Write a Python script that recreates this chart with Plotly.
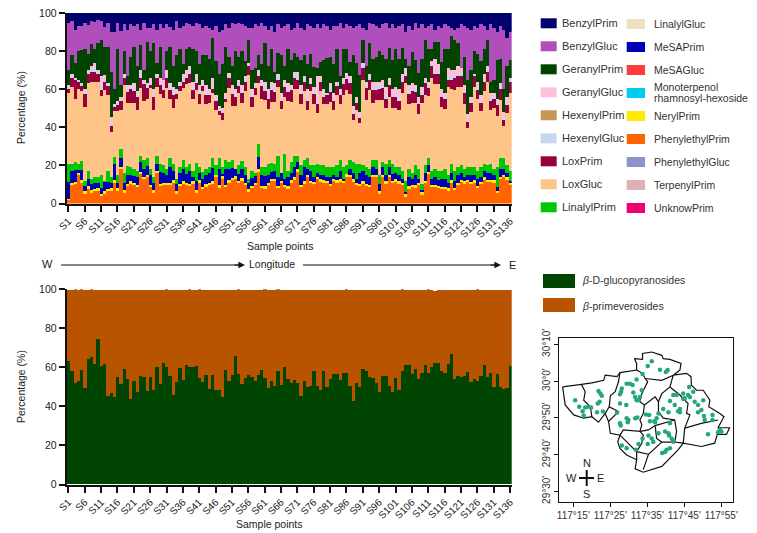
import plotly.graph_objects as go

W, H = 757, 533

samples = [f"S{i}" for i in range(1, 137)]
tick_samples = [f"S{i}" for i in range(1, 137, 5)]

# ---- upper stack: top edge of the visible layers (%)
phenylethyl_top = [
 2,10,10,15,11,5.5,8,6,6.5,7, 4,5.5,6.5,7,11,7,18,6,9,10.5,
 10,8.5,15.5,13,14,8.5,6,16,9.5,9.5, 10,9.5,11,5.5,9.5,10.5,9.5,9.5,10.5,6,
 11,7.5,9,10,10.5,14,8.5,13,8.5,11, 12.5,13,11,12,10,6.5,8,9.5,17,8,
 8,9.5,12,12,8,11,8.5,8,11,12.5, 16.5,8.5,10.5,14,11,10.5,13,11.5,11,11,
 9,12,11,11.5,11,14,14,11.5,9.5,9.5, 10.5,9.5,8.5,14,14,5.5,14,10.5,14,11,
 11.5,10.5,9.5,3.5,8,8.5,8.5,9.5,4.5,11, 15.5,8.5,8.5,8,7.5,7.5,7,11,7,9.5,
 11.5,10.5,11.5,10.5,11,8,10.5,12.5,11.5,11.5, 11,5.5,13,14,12.5,10]
mesa_top = [
 11.5,17,17.5,17.5,17.5,9,13,10,11,11, 8,11.5,11.5,11,20.5,11,24,11,15,15,
 14.5,14,22,18,19.5,15,11,21,16.5,16, 15,19,17,10,16,18,15.5,17,14,12,
 16,13,15,16,18.5,14,18,15.5,18,18, 18.5,18,15.5,18,15,11,13.5,14.5,24.5,15,
 14.5,15,16.5,17,14,16,13,14,16,19, 22,15,19,18,17,14,16,15,15,14,
 14,15,14,17,13,15,18,16,13,16, 17,15,14,19,18,10,19,15,19,15.5,
 16,15,13,6,14,13,15,13,7,16, 20,13,14,12.5,13,13,11,16,12,15,
 16,14,15,15,15,13,14,17,16,16, 15,8.5,18,18,16,12]
linalyl_top = [
 21,21,22,21,22.5,12,17,13,14,14, 15,12,17,14,24.5,15,28.5,16,19.5,19,
 18,17,25,23,24,18,14,25,21,20, 18,24,20.5,13,19,23,19,21,17,21.5,
 19,16.5,18,19,24,19,24,19,23,22, 23,18,20,22.5,19,13,17,16,31,19,
 19,21,21.5,21,25,16,26,17,22,25, 25,20,23,24,20,20,21,20,20,19,
 19,19,20,23,19,20,23,22,21,21, 20,19,18,23,23,15,22,21,23,21,
 19,19,17,12,18,16,20,18,10,20, 24,17,18,17,17,18,15,21,17,19,
 20,18,19,19,19,17,19,21,20,21, 18,19,24,24,20,17]
loxgluc_top = [
 58,61,55,60,59,50.5,63,64,64,64, 56.5,59.5,57,37.5,48.5,48.5,49,62,53,52.5,
 53,49,60.5,54,55,60.5,49,61,57.5,55.5, 60.5,55,50,55,59,60.5,62.5,63,55,59.5,
 52,59,52,52.5,58,48,46.5,44,53.5,60.5, 51,51,58,52.5,59,67.5,50.5,57,63,55,
 54.5,49.5,53.5,53.5,61,49.5,56,
 54,53.5,60,60,52,59,49,59,52,47.5, 59,52,52,53.5,49,57,52,57,59.5,57.5,
 44,49,42,65,54.5,59.5,52.5,54.5,54.5,54.5, 50,56,50,50,
 49,58,63,52,53,53,47,52.5,57,56.5, 66,62.5,62.5,50.5,49.5,61,60,59.5,61,61,
 52,39.5,48,61,55,48.5,59,64,49,50, 46,54.5,40.5,47.5,58]
loxprim_top = [
 60.5,66,65,64,62,58,68,69,69,68, 60,64,62,41,51,52,54,66,59,60,
 59,56,66,63,61,62,56,66,62,60, 66,60,57,58,62,64,66,68,60,63,
 58,62,57,57,60,53,49,48,55,66, 58,56,62,58,64,72,56,61,67,62,
 59.5,55,60,59,65,54,61,
 59,60,66,65,58,64,54,63,58,52, 64,56,57,59,54,62,57,63,65,63,
 47,53,45,71,61,65,60,60,60,61, 55,62,56,56,
 54,64,67,58,59,59,52,57,63,61, 72,68,68,56,55,65,65,66,67,67,
 58,43,53,67,60,53,64,69,54,55, 52,60,44,52,64]
geranylgluc_top = [
 62,68,66,65,63,60,70,72,73.5,70, 67,67.5,63,45.5,52,54,56,68,62,62,
 63,59,70,65,63,66,60,68,66,65, 70,63,61,60,64,68,70,72,64,68,
 62,65,62,60,66,56,51,50,58,68.5, 62,60,65,62,67,74,60,63,70,65,
 64,60,64,63,68,58,65,63,62,69, 69,62,67,60,66,61,67,67,60,58,
 63,58,64,60,66,68,67,51,56,48, 74,64,68,64,64,64,65,61,66,60,
 61,60,68,71,62,63,62,56,61,66, 64,75,76,73,60,58,71,70,70,72,
 71,62,47,56,68,64,57,68,72,58, 58,55,63,48,56,66]
geranylprim_top = [
 70,78,74,80,80.5,81,78.5,83.5,81,84, 86,82,82,69,60,81,62,80,67,77,
 82,72,83,70,85,80,84,74,82,65, 80,82,72,78,81,73,81,82,81,80,
 73,78,78,76,87,74,68,73,82,77, 72,80,77,80,75,86,70,71,78,73,
 84,72,81,69,79,78,72,
 81,75.5,79,77,75.5,78,73,78.5,71.5,71, 74.5,75.5,76.5,77,73,81,67,81,81,74.5,
 78,74,67.5,86,72,84,76,77,80,78, 76,81.5,75.5,81,
 76,81.5,76,72,79.5,75.5,68.5,76,86,81, 81,85,85,74.5,81,81,88,86,84,71,
 77,65,70,80,78.5,75,81,86,64,65, 75.5,76,60,72,75.5]
benzylgluc_top = [
 95,96,91,93,93,95,93.5,96,95.5,96.5, 96,92.5,95,90,90,95,90.5,94,91,94,
 93,94,91,95,92,92,94,91,94,92, 94,92.5,91,96,92,93,95,94,93,95,
 94,92,93,92,91,92,90,91,94,92, 95,94,95,94,93,92,92,94,93,95,
 93,91,93,90,94,92,93,94,91,92, 95,92,91,94,93,92,94,92,94,93,
 91,93,93,95,92,94,93,92,93,94, 92,91,95,94,93,92,94,95,92,94,
 92,93,94,90,93,91,95,92,94,92, 93,94,91,93,92,94,93,92,91,92,
 94,93,92,91,93,92,94,93,91,94, 92,90,93,91,87,90]
neryl_band = [
 0.6,1,1.2,1,1.3,1,1,0.9,1.2,1, 0.8,1,1.1,1,1.2,1,1.3,1,1.1,1.4,
 1,1.2,1,1.1,1,1.3,1,1.2,1,1.1, 1,1.2,1.4,1,1,1.1,1.2,1,1.3,1,
 1.1,1.3,1,1,1.2,1,1,1.2,1.4,1.2, 1.1,1.3,1,1.2,1,1,1.1,1.3,1,1.2,
 1,1.2,1.1,1,1.3,1,1.2,1,1.1,1.3, 1.6,1.1,1.4,1.2,1,1,1.1,1.2,1.1,1,
 1.2,1,1.1,1.2,1,1.3,1.1,1.2,1.4,1, 1.1,1,1.2,1.1,1,1,1.2,1.1,1,1,
 1.2,1.1,1.2,1.3,1,1.1,1,1.2,1.4,1, 1,1.2,1.4,1.1,1.3,1.2,1,1.2,1.3,1.1,
 1,1.2,1.1,1,1.3,1.1,1,1.2,1.1,1, 1.2,1.3,1,1.1,1.2,1]
hexenylgluc_band = [
 0.8,1,0.8,1,0.8,1,1.2,1.5,2.5,1.2, 1,1.2,0.8,1,0.8,0.8,1,1,1,1.2,
 1.2,1,1.2,0.8,0.8,1.2,1,1,1.2,1, 1.5,1,1.2,0.8,1,1.2,1.5,1.2,1,1.2,
 1,1,1,0.8,1.2,0.8,0.8,0.8,1,1.2, 1,1,1,1.2,1.2,1.2,1,0.8,1.2,1,
 1,1.2,1,1,1.2,1,1.2,0.8,1,1.2, 1.2,1,1.2,1.2,1,0.8,1.2,1,1,1,
 1,1,1,1.2,1,1.2,1.2,1.5,1,1.2, 1.2,1,1,1,1,1.2,1,1.2,1.5,1,
 1,1.2,1.2,1.5,1,1.2,1,1.2,1,1.2, 1,1.2,1.5,1.2,1.2,1,1.2,1.5,1.2,1.2,
 1.2,1.2,1.5,1,1.2,1,1,1.2,1.2,1, 1,1,1.2,1.5,1,1.2]

# ---- lower stack (%)
glucopyranosides = [
 63,58,52,53,58.5,49.5,64,65,61.5,74.5, 60.5,61.5,45,46.5,44.5,55,51.5,59,54,43.5,
 53,47,55.5,55,48,55,48.5,60,51.5,62, 60,55.5,45.5,52.5,59.5,53.5,61,60,60,60.5,
 54.5,52.5,56,49,56,48.5,48.5,44.5,58.5,53, 56,65.5,56.5,51.5,54.5,56,55,53,56,58.5,
 54.5,49.5,53,50.5,58,51,60,54,52,53.5, 52,45,53,50,50.5,58,50.5,48.5,58,50,
 54,56.5,56.5,53.5,57,57,50.5,42.5,52,50, 59,58,55,54.5,52,47,55.5,55.5,50.5,47,
 54.5,48.5,58,61,61,56.5,59,54,57,61, 57,60,62,62,58,57,61.5,66.5,54,55.5,
 55,55.5,57.5,52.5,54,53,55.5,61,55,57, 50,56.5,50,49,49.5,60.5]
stack_total = [
 99.5,99.7,99.8,99.6,99.9,99.7,99.6,99.8,99.7,99.6, 99.7,99.5,99.6,99.4,99.6,99.5,99.7,99.6,99.5,99.5,
 99.3,99.4,99.6,99.7,99.6,99.5,99.6,99.7,99.7,99.6, 99.8,99.6,99.7,99.7,99.6,99.5,99.7,99.8,99.7,99.5,
 99.8,99.7,99.5,99.4,99.6,99.7,99.7,99.6,99.5,99.7, 99.6,99.7,99.8,99.6,99.5,99.6,99.7,99.5,99.7,99.6,
 99.8,99.5,99.7,99.6,99.8,99.7,99.4,99.6,99.7,99.6, 99.6,99.7,99.6,99.5,99.7,99.7,99.6,99.6,99.7,99.4,
 99.6,99.7,99.6,99.7,99.7,99.8,99.7,99.6,99.7,99.6, 99.5,99.6,99.7,99.6,99.6,99.7,99.5,99.5,99.6,99.7,
 99.5,99.6,99.8,99.7,99.7,99.6,99.7,99.5,99.7,99.6, 99.8,99.5,99.2,99.6,99.6,99.7,99.6,99.5,99.6,99.7,
 99.6,99.6,99.7,99.6,99.7,99.8,99.6,99.7,99.7,99.6, 99.6,99.7,99.7,99.6,99.6,99.7]

# ---- map (arc-minutes past 117 deg E and past 29 deg N)
lon_ticks = [15, 25, 35, 45, 55]
lon_labels = ["117°15'", "117°25'", "117°35'", "117°45'", "117°55'"]
lat_ticks = [30, 40, 50, 60, 70]
lat_labels = ["29°30'", "29°40'", "29°50'", "30°0'", "30°10'"]

border_lon = [12.1,15.1,17.2,20.0,23.2,23.6,26.8,27.6,32.1,32.1,31.5,33.7,33.7,36.2,38.9,39.3,41.1,44.1,43.8,42.0,
 45.6,46.8,46.9,48.3,50.1,51.9,51.6,54.6,55.7,54.1,57.2,56.4,53.9,53.2,49.6,44.7,43.3,38.9,33.9,31.7,
 32.1,29.4,27.6,27.0,27.6,25.0,24.5,23.6,21.8,20.0,17.8,15.1,12.8,12.1]
border_lat = [58.4,58.9,59.1,59.5,60.2,61.6,61.2,62.3,63.0,64.8,66.1,65.9,67.5,67.9,67.0,66.1,65.9,64.8,63.0,61.6,
 62.1,61.2,58.9,57.5,57.5,54.8,53.0,51.2,50.3,47.3,47.3,45.5,45.5,43.1,42.2,43.1,41.3,36.8,35.2,36.1,
 38.6,39.9,41.7,43.5,45.3,45.8,49.0,51.2,48.8,50.3,49.9,50.8,53.5,58.4]
inner_lon = [17.2,18.2,17.8,19.6,20.0,None,
 27.6,27.2,26.3,25.0,24.7,27.2,24.5,None,
 23.6,24.7,None,
 32.1,33.7,34.4,35.1,33.5,33.0,34.2,33.9,33.0,33.5,33.0,28.5,27.6,None,
 34.4,38.9,42.0,41.1,38.9,38.0,38.0,39.3,42.4,42.9,42.4,44.7,None,
 38.0,37.1,34.2,None,
 41.1,43.8,46.0,45.6,46.5,45.1,49.6,54.1,None,
 45.1,44.7,None,
 33.0,35.3,37.1,39.3,42.4,None,
 37.1,37.5,38.9,42.4,None,
 38.9,35.3,33.9,None,
 27.6,29.4,32.1,35.3,None,
 32.1,32.1,None,
 33.0,33.9,33.5,32.1]
inner_lat = [59.1,57.1,54.8,53.0,50.3,None,
 62.3,59.8,57.1,56.0,53.0,51.7,49.0,None,
 51.2,53.0,None,
 63.0,62.1,60.7,59.8,56.6,54.4,53.5,51.2,49.4,48.1,46.3,46.7,45.3,None,
 60.7,60.2,61.6,58.4,56.6,54.4,51.7,49.9,49.4,46.3,43.4,43.1,None,
 54.4,55.7,53.5,None,
 58.4,56.2,53.9,51.2,50.8,47.2,48.5,49.4,None,
 47.2,43.1,None,
 46.3,46.7,47.9,48.5,49.4,None,
 47.9,44.4,43.4,43.4,None,
 43.4,40.1,35.9,None,
 45.3,43.5,40.8,40.1,None,
 40.8,38.6,None,
 46.3,45.3,43.1,40.8]
site_lon = [15.5,16.6,17.5,18.2,19.1,17.8,19.8,21.6,22.1,21.4,23.0,21.8,22.3,22.7,26.8,28.1,27.9,27.6,29.4,30.3,
 31.0,32.1,31.2,31.7,29.3,27.6,33.7,33.0,32.6,33.5,32.1,27.6,27.8,29.4,29.9,29.7,31.7,32.3,34.6,35.5,
 35.7,36.9,37.5,38.0,37.1,41.1,39.8,38.0,40.7,40.9,41.6,42.0,35.3,36.2,36.6,35.1,33.7,32.6,31.9,28.1,
 29.4,36.2,35.1,38.4,40.0,40.5,41.1,40.2,39.0,39.8,44.7,45.1,46.0,46.5,46.3,44.7,47.8,48.7,49.6,48.7,
 47.4,50.1,41.1,42.4,43.8,43.3,39.3,40.7,43.8,50.3,52.6,52.6,50.5,51.4,54.6,54.1,55.0,42.0,42.9]
site_lat = [54.8,53.0,51.8,52.8,53.0,50.6,52.8,53.9,54.4,51.5,51.7,57.3,56.6,56.0,51.4,58.0,57.1,56.4,59.3,59.3,
 58.9,60.4,56.9,55.7,53.5,53.9,61.9,55.7,54.8,57.5,54.8,48.5,47.9,49.9,49.4,48.8,49.9,50.1,50.9,50.8,
 49.1,49.1,49.9,51.2,48.8,48.5,46.3,45.8,45.8,45.2,44.3,43.5,45.2,44.4,43.4,42.9,44.4,42.9,41.3,42.5,
 41.7,65.4,64.1,63.1,62.5,63.0,41.7,41.3,40.4,40.7,56.6,55.3,56.2,55.7,58.4,55.1,54.4,53.5,52.1,51.5,
 57.1,54.8,54.6,53.5,52.4,51.8,52.4,51.5,51.5,50.5,50.8,49.4,49.4,45.5,46.7,46.1,46.3,56.2,56.2]

# ---- legends
legend_col1 = ["BenzylPrim", "BenzylGluc", "GeranylPrim", "GeranylGluc", "HexenylPrim",
               "HexenylGluc", "LoxPrim", "LoxGluc", "LinalylPrim"]
legend_col2 = ["LinalylGluc", "MeSAPrim", "MeSAGluc", "Monoterpenol rhamnosyl-hexoside", "NerylPrim",
               "PhenylethylPrim", "PhenylethylGluc", "TerpenylPrim", "UnknowPrim"]
colors = dict(zip(legend_col1 + legend_col2,
    ["#00006E", "#B04FBC", "#004400", "#FFC0DC", "#C89650", "#C5D8F2", "#96003C", "#FFC488", "#00C800",
     "#EEE0C0", "#0000B4", "#FF3B3B", "#00CCEE", "#FFEB00", "#FF6400", "#8C92CC", "#E0B0B4", "#F00070"]))
GLUC, PRIM = "#014503", "#B85400"

def diff(a, b):
    return [max(0, x - y) for x, y in zip(a, b)]

neryl_top = [a + b for a, b in zip(phenylethyl_top, neryl_band)]
hexgluc_top = [a + b for a, b in zip(loxprim_top, hexenylgluc_band)]
layers = [
    ("PhenylethylPrim", phenylethyl_top),
    ("NerylPrim", neryl_band),
    ("MeSAPrim", diff(mesa_top, neryl_top)),
    ("LinalylPrim", diff(linalyl_top, mesa_top)),
    ("LoxGluc", diff(loxgluc_top, linalyl_top)),
    ("LoxPrim", diff(loxprim_top, loxgluc_top)),
    ("HexenylGluc", hexenylgluc_band),
    ("GeranylGluc", diff(geranylgluc_top, hexgluc_top)),
    ("GeranylPrim", diff(geranylprim_top, geranylgluc_top)),
    ("BenzylGluc", diff(benzylgluc_top, geranylprim_top)),
    ("BenzylPrim", [100 - v for v in benzylgluc_top]),
]

fig = go.Figure()
for name, vals in layers:
    fig.add_bar(x=samples, y=vals, name=name, marker=dict(color=colors[name], line_width=0),
                xaxis="x", yaxis="y", showlegend=False)
fig.add_bar(x=samples, y=glucopyranosides, name="β-D-glucopyranosides",
            marker=dict(color=GLUC, line_width=0), xaxis="x2", yaxis="y2", showlegend=False)
fig.add_bar(x=samples, y=diff(stack_total, glucopyranosides), name="β-primeverosides",
            marker=dict(color=PRIM, line_width=0), xaxis="x2", yaxis="y2", showlegend=False)
fig.add_scatter(x=border_lon, y=border_lat, mode="lines", line=dict(color="#111", width=1.2),
                xaxis="x3", yaxis="y3", showlegend=False)
fig.add_scatter(x=inner_lon, y=inner_lat, mode="lines", line=dict(color="#111", width=1.2),
                connectgaps=False, xaxis="x3", yaxis="y3", showlegend=False)
fig.add_scatter(x=site_lon, y=site_lat, mode="markers", marker=dict(color="#22A87A", size=4.5),
                xaxis="x3", yaxis="y3", showlegend=False)

def fx(p): return p / W
def fy(p): return 1 - p / H

FONT = "Liberation Sans, Arial, sans-serif"
TXT = "#222222"
anns, shapes = [], []

def label(x, y, text, size=10.5, xanchor="center", angle=0, color=TXT):
    anns.append(dict(x=fx(x), y=fy(y), xref="paper", yref="paper", text=text, showarrow=False,
                     xanchor=xanchor, yanchor="middle", textangle=angle,
                     font=dict(size=size, color=color, family=FONT), align="left"))

def box(x0, y0, x1, y1, color):
    shapes.append(dict(type="rect", xref="paper", yref="paper", x0=fx(x0), x1=fx(x1), y0=fy(y0), y1=fy(y1),
                       fillcolor=color, line_width=0))

def seg(x0, y0, x1, y1, width=1):
    shapes.append(dict(type="line", xref="paper", yref="paper", x0=fx(x0), x1=fx(x1), y0=fy(y0), y1=fy(y1),
                       line=dict(color="#111", width=width)))

def arrowhead(xtip, y):
    anns.append(dict(x=fx(xtip), y=fy(y), ax=-12, ay=0, xref="paper", yref="paper",
                     axref="pixel", ayref="pixel", text="", showarrow=True, arrowhead=2, arrowsize=1.1,
                     arrowwidth=1.2, arrowcolor="#111"))

ROW = 23
for i, name in enumerate(legend_col1):
    yc = 23.3 + ROW * i
    box(540.7, yc - 5, 556.7, yc + 5, colors[name])
    label(559.5, yc, name, size=11, xanchor="left", color="#333")
for i, name in enumerate(legend_col2):
    yc = 24 + ROW * i
    box(626.7, yc - 5, 645, yc + 5, colors[name])
    if " " in name:
        first, second = name.split(" ")
        label(651.5, yc - 5.5, first, size=10.5, xanchor="left", color="#333")
        label(651.5, yc + 5, second, size=10.5, xanchor="left", color="#333")
    else:
        label(651.5, yc, name, size=10.5, xanchor="left", color="#333")

box(543, 274, 575, 288, GLUC)
box(543, 298, 575, 312, PRIM)
label(580, 280, "<i>β</i>-D-glucopyranosides", size=10.5, xanchor="left", color="#333")
label(580, 306, "<i>β</i>-primeverosides", size=10.5, xanchor="left", color="#333")

label(21, 108, "Percentage (%)", angle=-90)
label(21, 387, "Percentage (%)", angle=-90)
label(280, 246, "Sample points")
label(269, 524, "Sample points")

label(47, 264, "W", size=11)
seg(61, 265, 240, 265)
arrowhead(245, 265)
label(272, 264, "Longitude")
seg(303, 265, 497, 265)
arrowhead(501, 265)
label(512, 265, "E", size=11)

label(586.7, 463, "N", size=11)
label(586.7, 494, "S", size=11)
label(571.7, 478, "W", size=11)
label(600, 478, "E", size=11)
seg(579, 478, 594, 478, 2)
seg(586.7, 470, 586.7, 486, 2)

bar_x = dict(domain=[fx(66.7), fx(511.7)], range=[-0.5, 135.5], type="category", categoryorder="array",
             categoryarray=samples, tickmode="array", tickvals=tick_samples, ticktext=tick_samples,
             tickangle=-45, ticks="outside", ticklen=6, tickwidth=2, tickcolor="#111", showline=True,
             linecolor="#111", linewidth=2, showgrid=False, zeroline=False, automargin=False,
             tickfont=dict(size=10, color=TXT, family=FONT))
bar_y = dict(range=[0, 100], tickvals=[0, 20, 40, 60, 80, 100], ticks="outside", ticklen=6, tickwidth=2,
             tickcolor="#111", showline=True, linecolor="#111", linewidth=2, showgrid=False, zeroline=False,
             automargin=False, tickfont=dict(size=10.5, color=TXT, family=FONT))

fig.update_layout(
    width=W, height=H, autosize=False, margin=dict(l=0, r=0, t=0, b=0),
    paper_bgcolor="white", plot_bgcolor="white", barmode="stack", bargap=0, showlegend=False,
    font=dict(family=FONT, color=TXT),
    xaxis=dict(bar_x, anchor="y"),
    yaxis=dict(bar_y, domain=[fy(203.5), fy(13)], anchor="x"),
    xaxis2=dict(bar_x, anchor="y2"),
    yaxis2=dict(bar_y, domain=[fy(484.5), fy(289.3)], anchor="x2"),
    xaxis3=dict(domain=[fx(558.7), fx(733)], range=[11.04, 58.15], anchor="y3", tickmode="array",
                tickvals=lon_ticks, ticktext=lon_labels, ticks="outside", ticklen=4, tickcolor="#111",
                showline=True, mirror=True, linecolor="#111", linewidth=1, showgrid=False, zeroline=False,
                automargin=False, tickfont=dict(size=10, color="#333", family=FONT)),
    yaxis3=dict(domain=[fy(502), fy(337.7)], range=[27.1, 71.8], anchor="x3", tickmode="array",
                tickvals=lat_ticks, ticktext=lat_labels, tickangle=-90, ticks="outside", ticklen=4,
                tickcolor="#111", showline=True, mirror=True, linecolor="#111", linewidth=1, showgrid=False,
                zeroline=False, automargin=False, tickfont=dict(size=10, color="#333", family=FONT)),
    annotations=anns, shapes=shapes,
)

for a in (phenylethyl_top, mesa_top, linalyl_top, loxgluc_top, loxprim_top, geranylgluc_top, geranylprim_top,
          benzylgluc_top, neryl_band, hexenylgluc_band, glucopyranosides, stack_total):
    assert len(a) == 136, len(a)
assert len(border_lon) == len(border_lat) and len(inner_lon) == len(inner_lat) and len(site_lon) == len(site_lat)

fig.write_html("out.html", config=dict(displayModeBar=False),
               post_script="document.body.style.margin='0';")
